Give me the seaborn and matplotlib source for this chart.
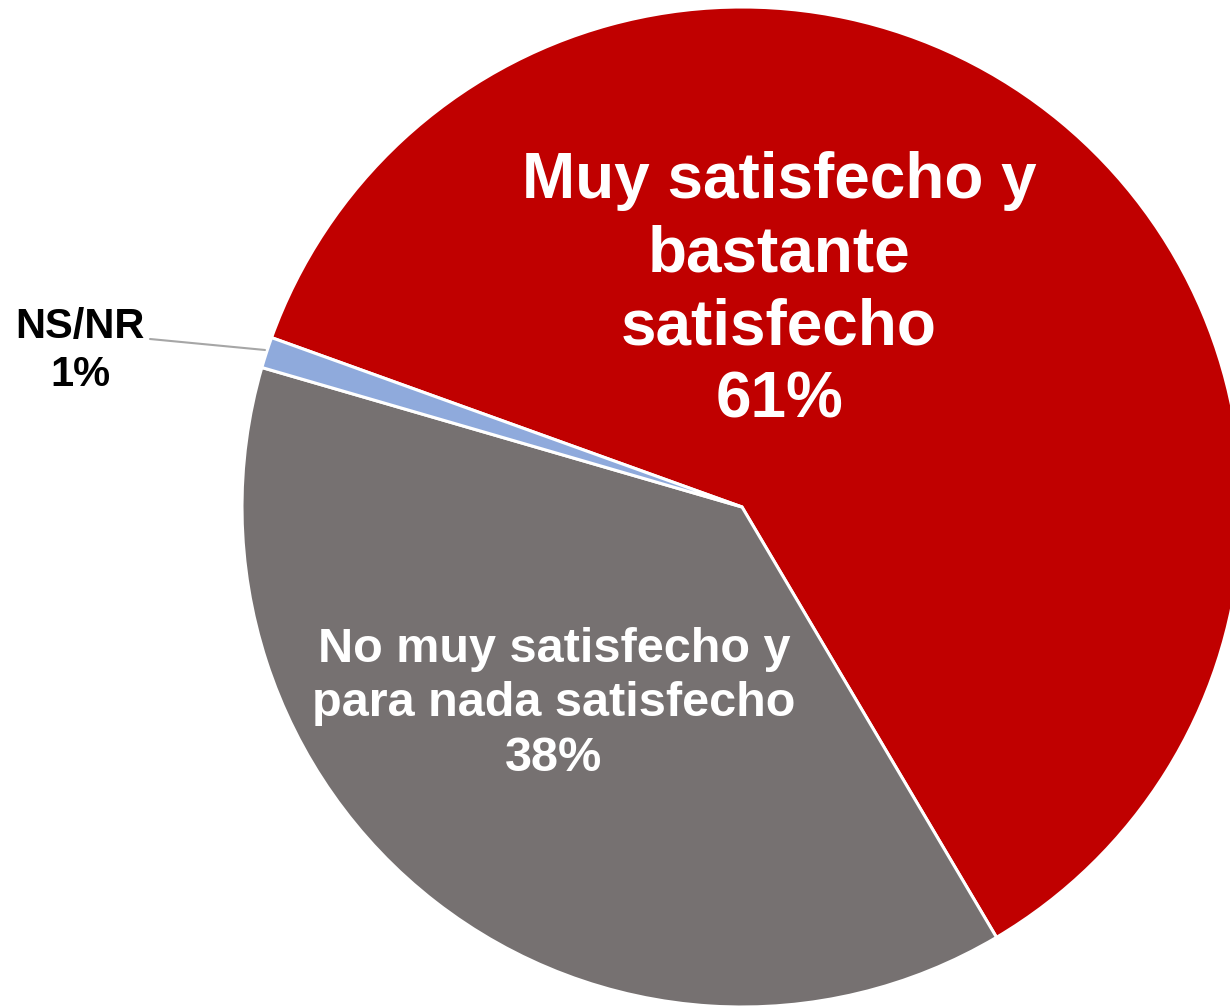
import matplotlib
matplotlib.use("Agg")
import matplotlib.pyplot as plt
import seaborn as sns
import numpy as np

sns.set_theme(style="white")
plt.rcParams['font.family'] = ['Liberation Sans', 'DejaVu Sans']

categories = ["Muy satisfecho y\nbastante\nsatisfecho",
              "No muy satisfecho y\npara nada satisfecho",
              "NS/NR"]
values = [61, 38, 1]
colors = ["#C00000", "#767171", "#8FAADC"]

W, H = 1230, 1007
fig = plt.figure(figsize=(W / 100, H / 100), dpi=100)
ax = fig.add_axes([0, 0, 1, 1])

cx, cy, R = 742, H - 507, 500
wedges, _ = ax.pie(values, colors=colors, startangle=160.2, counterclock=False,
                   center=(cx, cy), radius=R,
                   wedgeprops=dict(edgecolor="white", linewidth=2.2))
ax.set_xlim(0, W)
ax.set_ylim(0, H)
ax.set_aspect("equal")
ax.axis("off")

# labels
ax.text(cx + 37, cy + 216, f"{categories[0]}\n{values[0]}%", color="white",
        fontsize=46, fontweight="bold", ha="center", va="center", linespacing=1.28)
ax.text(cx - 188, cy - 197, f"{categories[1]}\n{values[1]}%", color="white",
        fontsize=35, fontweight="bold", ha="center", va="center", linespacing=1.26)
ax.text(cx - 662, cy + 156, f"{categories[2]}\n{values[2]}%", color="black",
        fontsize=30, fontweight="bold", ha="center", va="center", linespacing=1.25)

# leader line for the small slice
ax.plot([150, 265], [H - 339, H - 350], color="#A6A6A6", lw=1.5)

fig.savefig("out.png", dpi=100)
